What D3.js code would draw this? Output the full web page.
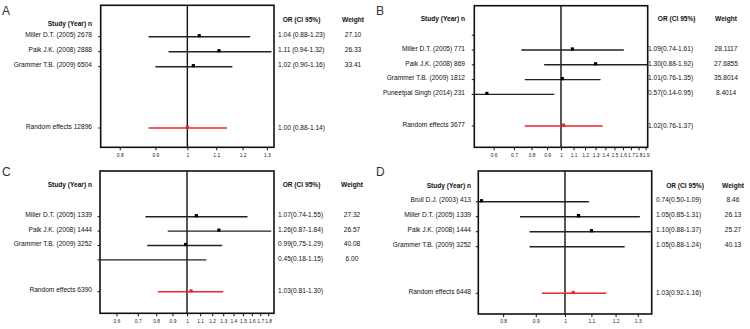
<!DOCTYPE html>
<html>
<head>
<meta charset="utf-8">
<script src="https://cdn.jsdelivr.net/npm/d3@7"></script>
<style>
  body { margin: 0; background: #fff; }
  svg { font-family: "Liberation Sans", Arial, sans-serif; }
  .lbl { font-size: 6.6px; fill: #111; }
  .hdr { font-size: 6.6px; font-weight: bold; fill: #111; }
  .tick text { font-size: 4.9px; fill: #222; }
</style>
</head>
<body>
<div id="chart-area"></div>
<script>
// Panel A
var studiesA = ["Miller D.T. (2005) 2678", "Paik J.K. (2008) 2888", "Grammer T.B. (2009) 6504"];
var orA = [1.04, 1.11, 1.02];
var loA = [0.88, 0.94, 0.90];
var hiA = [1.23, 1.32, 1.16];
var weightA = ["27.10", "26.33", "33.41"];
var pooledA = [1.00, 0.88, 1.14];
var ticksA = [0.8, 0.9, 1, 1.1, 1.2, 1.3];

// Panel B
var studiesB = ["Miller D.T. (2005) 771", "Paik J.K. (2008) 869", "Grammer T.B. (2009) 1812", "Puneetpal Singh (2014) 231"];
var orB = [1.09, 1.30, 1.01, 0.57];
var loB = [0.74, 0.88, 0.76, 0.14];
var hiB = [1.61, 1.92, 1.35, 0.95];
var weightB = ["28.1117", "27.6855", "35.8014", "8.4014"];
var pooledB = [1.02, 0.76, 1.37];
var ticksB = [0.6, 0.7, 0.8, 0.9, 1, 1.1, 1.2, 1.3, 1.4, 1.5, 1.6, 1.7, 1.8, 1.9];

// Panel C
var studiesC = ["Miller D.T. (2005) 1339", "Paik J.K. (2008) 1444", "Grammer T.B. (2009) 3252", ""];
var orC = [1.07, 1.26, 0.99, 0.45];
var loC = [0.74, 0.87, 0.75, 0.18];
var hiC = [1.55, 1.84, 1.29, 1.15];
var weightC = ["27.32", "26.57", "40.08", "6.00"];
var pooledC = [1.03, 0.81, 1.30];
var ticksC = [0.6, 0.7, 0.8, 0.9, 1, 1.1, 1.2, 1.3, 1.4, 1.5, 1.6, 1.7, 1.8];

// Panel D
var studiesD = ["Brull D.J. (2003) 413", "Miller D.T. (2005) 1339", "Paik J.K. (2008) 1444", "Grammer T.B. (2009) 3252"];
var orD = [0.74, 1.05, 1.10, 1.05];
var loD = [0.50, 0.85, 0.88, 0.88];
var hiD = [1.09, 1.31, 1.37, 1.24];
var weightD = ["8.46", "26.13", "25.27", "40.13"];
var pooledD = [1.03, 0.92, 1.16];
var ticksD = [0.8, 0.9, 1, 1.1, 1.2, 1.3];

var pooledLabels = ["Random effects 12896", "Random effects 3677", "Random effects 6390", "Random effects 6448"];

var svg = d3.select("#chart-area").append("svg")
    .attr("width", 750)
    .attr("height", 329);

var f2 = d3.format(".2f");

// layout of each panel (pixels)
var panels = [
  {letter: "A", lx: 2, ly: 15, x0: 100.7, x1: 274, y0: 5.3, y1: 147.3, max: 1.331, first: 31.4, step: 15, pooled: 122.7,
   labX: 92, studyHdrY: 24, hdrY: 20, orX: 278, orHdrX: 301.5, wX: 353, sep: " ", extraTop: false,
   studies: studiesA, or: orA, lo: loA, hi: hiA, w: weightA, p: pooledA, ticks: ticksA},
  {letter: "B", lx: 376, ly: 15, x0: 474.3, x1: 647.7, y0: 5.7, y1: 147.3, max: 1.93, first: 44.3, step: 14.8, pooled: 120.3,
   labX: 465, studyHdrY: 19, hdrY: 19.5, orX: 648, orHdrX: 676.7, wX: 726, sep: "", extraTop: true,
   studies: studiesB, or: orB, lo: loB, hi: hiB, w: weightB, p: pooledB, ticks: ticksB},
  {letter: "C", lx: 2, ly: 176, x0: 100, x1: 274, y0: 171, y1: 313.3, max: 1.878, first: 45.7, step: 14.4, pooled: 120.7,
   labX: 92, studyHdrY: 185.7, hdrY: 185.7, orX: 278, orHdrX: 301.5, wX: 352, sep: "", extraTop: false,
   studies: studiesC, or: orC, lo: loC, hi: hiC, w: weightC, p: pooledC, ticks: ticksC},
  {letter: "D", lx: 376, ly: 176, x0: 478.3, x1: 651.7, y0: 171, y1: 314, max: 1.367, first: 30.7, step: 15, pooled: 122.3,
   labX: 471, studyHdrY: 186.7, hdrY: 186.7, orX: 656, orHdrX: 685, wX: 733, sep: "", extraTop: false,
   studies: studiesD, or: orD, lo: loD, hi: hiD, w: weightD, p: pooledD, ticks: ticksD}
];

panels.forEach(function(P, k) {
  var g = svg.append("g");

  var x = d3.scaleLog().domain([1 / P.max, P.max]).range([P.x0, P.x1]).clamp(true);
  var yRow = function(i) { return P.y0 + P.first + i * P.step; };
  var yPool = P.y0 + P.pooled;
  var inDom = function(v) { return v >= 1 / P.max && v <= P.max; };

  // panel letter
  g.append("text")
    .attr("x", P.lx).attr("y", P.ly)
    .attr("font-size", "12px")
    .attr("fill", "#333")
    .text(P.letter);

  // bottom axis
  var xAxisCall = d3.axisBottom(x)
    .tickValues(P.ticks)
    .tickFormat(function(d) { return d; })
    .tickSize(3)
    .tickPadding(3);
  var xAxis = g.append("g")
    .attr("transform", "translate(0," + P.y1 + ")")
    .call(xAxisCall);
  xAxis.select(".domain").remove();
  xAxis.selectAll(".tick line").attr("stroke", "#111").attr("stroke-width", 1);

  // left row ticks
  var rows = d3.range(P.studies.length).map(yRow);
  if (P.extraTop) rows.unshift(yRow(-1));
  rows.push(yPool);
  g.selectAll(".rowtick").data(rows).enter().append("line")
    .attr("x1", P.x0 - 2.5).attr("x2", P.x0)
    .attr("y1", function(d) { return d; }).attr("y2", function(d) { return d; })
    .attr("stroke", "#111").attr("stroke-width", 1);

  // frame
  g.append("rect")
    .attr("x", P.x0).attr("y", P.y0)
    .attr("width", P.x1 - P.x0).attr("height", P.y1 - P.y0)
    .attr("fill", "none").attr("stroke", "#111").attr("stroke-width", 1.6);

  // line of no effect
  g.append("line")
    .attr("x1", x(1)).attr("x2", x(1))
    .attr("y1", P.y0).attr("y2", P.y1)
    .attr("stroke", "#111").attr("stroke-width", 1.4);

  // study CIs
  g.selectAll(".ci").data(P.or).enter().append("line")
    .attr("x1", function(d, i) { return x(P.lo[i]); })
    .attr("x2", function(d, i) { return x(P.hi[i]); })
    .attr("y1", function(d, i) { return yRow(i); })
    .attr("y2", function(d, i) { return yRow(i); })
    .attr("stroke", "#222").attr("stroke-width", 1.4);

  g.selectAll(".pt").data(P.or.filter(inDom).map(function(d) { return [d, P.or.indexOf(d)]; }))
    .enter().append("rect")
    .attr("x", function(d) { return x(d[0]) - 1.6; })
    .attr("y", function(d) { return yRow(d[1]) - 2.6; })
    .attr("width", 3.2).attr("height", 3.2)
    .attr("fill", "#000");

  // pooled estimate
  g.append("line")
    .attr("x1", x(P.p[1])).attr("x2", x(P.p[2]))
    .attr("y1", yPool).attr("y2", yPool)
    .attr("stroke", "#e3262b").attr("stroke-width", 1.5);
  g.append("rect")
    .attr("x", x(P.p[0]) - 1.6).attr("y", yPool - 2.4)
    .attr("width", 3.2).attr("height", 3.2)
    .attr("fill", "#e3262b");

  // headers
  g.append("text").attr("class", "hdr")
    .attr("x", P.labX).attr("y", P.studyHdrY)
    .attr("text-anchor", "end").attr("dominant-baseline", "middle")
    .text("Study (Year) n");
  g.append("text").attr("class", "hdr")
    .attr("x", P.orHdrX).attr("y", P.hdrY)
    .attr("text-anchor", "middle").attr("dominant-baseline", "middle")
    .text("OR (CI 95%)");
  g.append("text").attr("class", "hdr")
    .attr("x", P.wX).attr("y", P.hdrY)
    .attr("text-anchor", "middle").attr("dominant-baseline", "middle")
    .text("Weight");

  // study rows text
  P.studies.forEach(function(s, i) {
    var yy = yRow(i) - 1;
    g.append("text").attr("class", "lbl")
      .attr("x", P.labX).attr("y", yy)
      .attr("text-anchor", "end").attr("dominant-baseline", "middle")
      .text(s);
    g.append("text").attr("class", "lbl")
      .attr("x", P.orX).attr("y", yy)
      .attr("dominant-baseline", "middle")
      .text(f2(P.or[i]) + P.sep + "(" + f2(P.lo[i]) + "-" + f2(P.hi[i]) + ")");
    g.append("text").attr("class", "lbl")
      .attr("x", P.wX).attr("y", yy)
      .attr("text-anchor", "middle").attr("dominant-baseline", "middle")
      .text(P.w[i]);
  });

  g.append("text").attr("class", "lbl")
    .attr("x", P.labX).attr("y", yPool - 1)
    .attr("text-anchor", "end").attr("dominant-baseline", "middle")
    .text(pooledLabels[k]);
  g.append("text").attr("class", "lbl")
    .attr("x", P.orX).attr("y", yPool)
    .attr("dominant-baseline", "middle")
    .text(f2(P.p[0]) + P.sep + "(" + f2(P.p[1]) + "-" + f2(P.p[2]) + ")");
});
</script>
</body>
</html>
